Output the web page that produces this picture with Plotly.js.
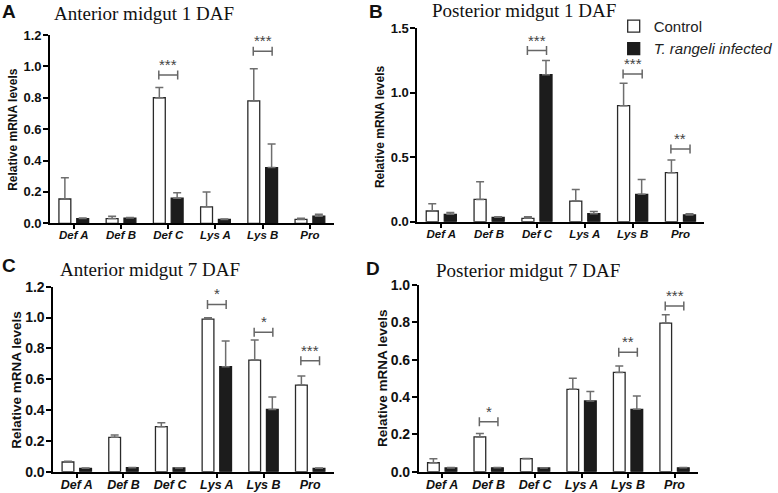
<!DOCTYPE html>
<html>
<head>
<meta charset="utf-8">
<script src="https://cdn.plot.ly/plotly-3.0.1.min.js"></script>
<style>html,body{margin:0;padding:0;background:#fff;}#chart{width:778px;height:493px;}</style>
</head>
<body>
<div id="chart"></div>
<script>
// ---- data ----
const categories = ['Def A', 'Def B', 'Def C', 'Lys A', 'Lys B', 'Pro'];
const seriesNames = ['Control', 'T. rangeli infected'];

// Panel A: Anterior midgut 1 DAF
const controlA    = [0.155, 0.030, 0.800, 0.105, 0.780, 0.025];
const controlErrA = [0.135, 0.015, 0.065, 0.095, 0.205, 0.007];
const infectedA    = [0.030, 0.033, 0.160, 0.025, 0.355, 0.045];
const infectedErrA = [0.003, 0.004, 0.035, 0.002, 0.150, 0.013];
const sigCatsA   = ['Def C', 'Lys B'];
const sigLevelsA = [0.945, 1.097];
const sigTextA   = ['***', '***'];

// Panel B: Posterior midgut 1 DAF
const controlB    = [0.083, 0.173, 0.026, 0.160, 0.900, 0.380];
const controlErrB = [0.057, 0.137, 0.013, 0.090, 0.173, 0.098];
const infectedB    = [0.057, 0.034, 1.140, 0.062, 0.212, 0.052];
const infectedErrB = [0.015, 0.005, 0.110, 0.018, 0.116, 0.010];
const sigCatsB   = ['Def C', 'Lys B', 'Pro'];
const sigLevelsB = [1.327, 1.146, 0.564];
const sigTextB   = ['***', '***', '**'];

// Panel C: Anterior midgut 7 DAF
const controlC    = [0.063, 0.223, 0.292, 0.990, 0.724, 0.562];
const controlErrC = [0.004, 0.015, 0.026, 0.008, 0.130, 0.058];
const infectedC    = [0.022, 0.026, 0.024, 0.681, 0.404, 0.022];
const infectedErrC = [0.002, 0.002, 0.002, 0.167, 0.080, 0.002];
const sigCatsC   = ['Lys A', 'Lys B', 'Pro'];
const sigLevelsC = [1.085, 0.904, 0.720];
const sigTextC   = ['*', '*', '***'];

// Panel D: Posterior midgut 7 DAF
const controlD    = [0.048, 0.186, 0.070, 0.441, 0.532, 0.796];
const controlErrD = [0.022, 0.019, 0.001, 0.059, 0.034, 0.045];
const infectedD    = [0.020, 0.021, 0.020, 0.379, 0.334, 0.021];
const infectedErrD = [0.002, 0.002, 0.001, 0.050, 0.071, 0.002];
const sigCatsD   = ['Def B', 'Lys B', 'Pro'];
const sigLevelsD = [0.268, 0.640, 0.888];
const sigTextD   = ['*', '**', '***'];

const panelTitles = ['Anterior midgut 1 DAF', 'Posterior midgut 1 DAF', 'Anterior midgut 7 DAF', 'Posterior midgut 7 DAF'];
const panelLetters = ['A', 'B', 'C', 'D'];
const yTitle = 'Relative mRNA levels';

// ---- layout geometry (pixels) ----
const W = 778, H = 493;
const panels = [
  {ctrl: controlA, ce: controlErrA, inf: infectedA, ie: infectedErrA, sc: sigCatsA, sl: sigLevelsA, st: sigTextA,
   x0: 50.7, x1: 337, y0: 223.3, y1: 35, ymax: 1.2, dtick: 0.2, ytf: 13, xtf: 11.5, tfs: 12,
   titlePos: [145, 14], letterPos: [9, 12], yTitlePos: [13, 129]},
  {ctrl: controlB, ce: controlErrB, inf: infectedB, ie: infectedErrB, sc: sigCatsB, sl: sigLevelsB, st: sigTextB,
   x0: 421.7, x1: 711.7, y0: 221.7, y1: 28.3, ymax: 1.5, dtick: 0.5, ytf: 13, xtf: 11.5, tfs: 12,
   titlePos: [529, 11], letterPos: [380, 12], yTitlePos: [384, 127]},
  {ctrl: controlC, ce: controlErrC, inf: infectedC, ie: infectedErrC, sc: sigCatsC, sl: sigLevelsC, st: sigTextC,
   x0: 54, x1: 337, y0: 471.7, y1: 286.7, ymax: 1.2, dtick: 0.2, ytf: 14, xtf: 12.5, tfs: 13.5,
   titlePos: [152, 269], letterPos: [9, 265], yTitlePos: [16, 380]},
  {ctrl: controlD, ce: controlErrD, inf: infectedD, ie: infectedErrD, sc: sigCatsD, sl: sigLevelsD, st: sigTextD,
   x0: 423.3, x1: 705, y0: 471.7, y1: 285, ymax: 1.0, dtick: 0.2, ytf: 14, xtf: 12.5, tfs: 13.5,
   titlePos: [533, 270], letterPos: [377, 268], yTitlePos: [386, 378]}
];

const ctrlFill = '#ffffff', ctrlLine = '#2a2a2a', infFill = '#1c1c1c', errColor = '#6e6e6e';
const sansBold = 'Liberation Sans, Arial, sans-serif';

const traces = [];
const shapes = [];
const annotations = [];
const layout = {
  width: W, height: H,
  margin: {l: 0, r: 0, t: 0, b: 0},
  paper_bgcolor: '#fff', plot_bgcolor: '#fff',
  barmode: 'group', bargap: 0.245, bargroupgap: 0.333,
  showlegend: true,
  legend: {x: 0.797, y: 0.98, xanchor: 'left', yanchor: 'top',
           font: {family: sansBold, size: 15, color: '#222'},
           tracegroupgap: 0, itemwidth: 30, bgcolor: 'rgba(0,0,0,0)'},
  font: {family: sansBold}
};

panels.forEach((p, i) => {
  const n = i === 0 ? '' : String(i + 1);
  const xa = 'x' + n, ya = 'y' + n;
  traces.push({
    type: 'bar', x: categories, y: p.ctrl, name: seriesNames[0], xaxis: xa, yaxis: ya,
    legendgroup: 'c', showlegend: i === 1,
    marker: {color: ctrlFill, line: {color: ctrlLine, width: 1.3}},
    error_y: {type: 'data', symmetric: false, array: p.ce, arrayminus: p.ce.map(() => 0),
              color: errColor, thickness: 1.5, width: 4},
    hoverinfo: 'x+y'
  });
  traces.push({
    type: 'bar', x: categories, y: p.inf, name: '<i>' + seriesNames[1] + '</i>', xaxis: xa, yaxis: ya,
    legendgroup: 'i', showlegend: i === 1,
    marker: {color: infFill, line: {color: infFill, width: 1.3}},
    error_y: {type: 'data', symmetric: false, array: p.ie, arrayminus: p.ie.map(() => 0),
              color: errColor, thickness: 1.5, width: 4},
    hoverinfo: 'x+y'
  });
  const tickvals = [];
  for (let v = 0; v <= p.ymax + 1e-9; v += p.dtick) tickvals.push(+v.toFixed(2));
  layout['xaxis' + n] = {
    domain: [p.x0 / W, p.x1 / W], anchor: ya, type: 'category', range: [-0.5, 5.5],
    showline: true, linecolor: '#000', linewidth: 2, ticks: 'outside', ticklen: 4, tickwidth: 2, tickcolor: '#000',
    ticklabelstandoff: -4,
    showgrid: false, zeroline: false, fixedrange: true,
    tickfont: {family: sansBold, size: p.xtf, color: '#111', weight: 'bold', style: 'italic'}
  };
  layout['yaxis' + n] = {
    domain: [1 - p.y0 / H, 1 - p.y1 / H], anchor: xa, range: [0, p.ymax],
    tickvals: tickvals, tickformat: '.1f',
    showline: true, linecolor: '#000', linewidth: 2, ticks: 'outside', ticklen: 5, tickwidth: 2, tickcolor: '#000',
    ticklabelstandoff: -1,
    showgrid: false, zeroline: false, fixedrange: true,
    tickfont: {family: sansBold, size: p.ytf, color: '#111', weight: 'bold'}
  };
  // y-axis title (placed precisely as rotated text)
  annotations.push({xref: 'paper', yref: 'paper', x: p.yTitlePos[0] / W, y: 1 - p.yTitlePos[1] / H,
    xanchor: 'center', yanchor: 'middle', textangle: -90, showarrow: false, text: '<b>' + yTitle + '</b>',
    font: {family: sansBold, size: p.tfs, color: '#111'}});
  // panel title + letter
  annotations.push({xref: 'paper', yref: 'paper', x: p.titlePos[0] / W, y: 1 - p.titlePos[1] / H,
    xanchor: 'center', yanchor: 'middle', showarrow: false, text: panelTitles[i],
    font: {family: 'Liberation Serif, Times New Roman, serif', size: 19, color: '#111'}});
  annotations.push({xref: 'paper', yref: 'paper', x: p.letterPos[0] / W, y: 1 - p.letterPos[1] / H,
    xanchor: 'center', yanchor: 'middle', showarrow: false, text: '<b>' + panelLetters[i] + '</b>',
    font: {family: sansBold, size: 19, color: '#111'}});
  // significance brackets
  const pxPerUnit = (p.y0 - p.y1) / p.ymax;
  const d = 4.5 / pxPerUnit;
  p.sc.forEach((cat, k) => {
    const c = categories.indexOf(cat);
    const yb = p.sl[k];
    const line = {color: '#666', width: 1.5};
    shapes.push({type: 'line', xref: xa, yref: ya, x0: c - 0.2, x1: c + 0.2, y0: yb, y1: yb, line: line});
    shapes.push({type: 'line', xref: xa, yref: ya, x0: c - 0.2, x1: c - 0.2, y0: yb - d, y1: yb + d, line: line});
    shapes.push({type: 'line', xref: xa, yref: ya, x0: c + 0.2, x1: c + 0.2, y0: yb - d, y1: yb + d, line: line});
    annotations.push({xref: xa, yref: ya, x: c, y: yb, yanchor: 'bottom', yshift: 0, showarrow: false,
      text: p.st[k], font: {family: sansBold, size: 15, color: '#444'}});
  });
});

layout.shapes = shapes;
layout.annotations = annotations;
Plotly.newPlot('chart', traces, layout, {displayModeBar: false, staticPlot: true});
</script>
</body>
</html>
